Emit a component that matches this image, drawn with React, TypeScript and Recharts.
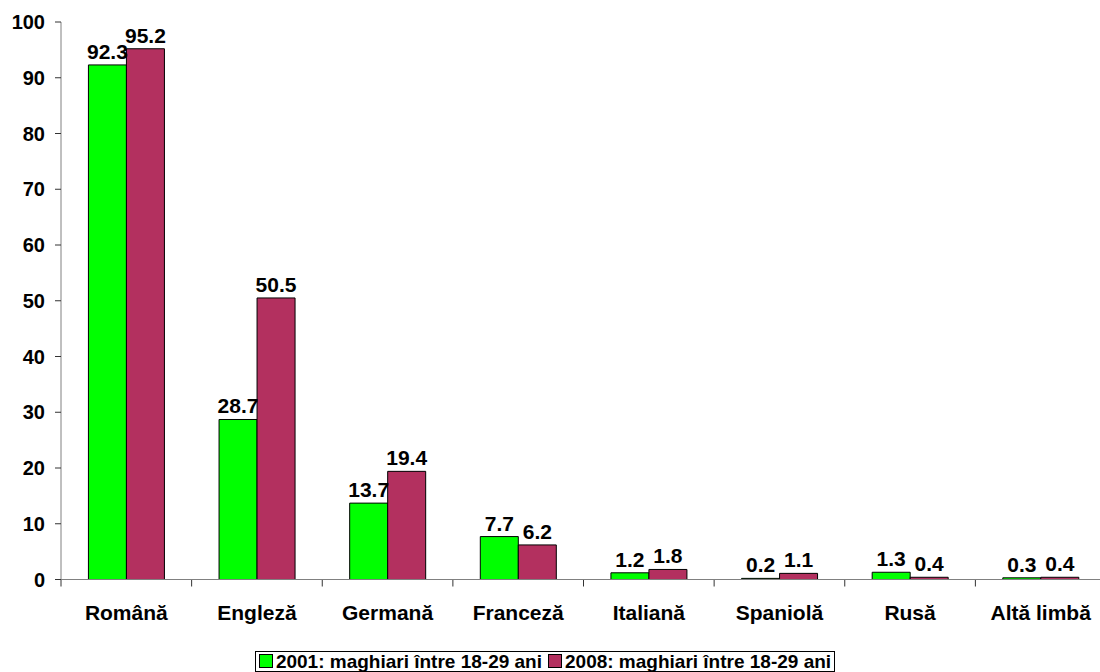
import React from 'react';
import { BarChart, Bar, XAxis, YAxis, Legend, LabelList, CartesianGrid } from 'recharts';

const categories = ['Română', 'Engleză', 'Germană', 'Franceză', 'Italiană', 'Spaniolă', 'Rusă', 'Altă limbă'];
const values2001 = [92.3, 28.7, 13.7, 7.7, 1.2, 0.2, 1.3, 0.3];
const values2008 = [95.2, 50.5, 19.4, 6.2, 1.8, 1.1, 0.4, 0.4];
const yTicks = [0, 10, 20, 30, 40, 50, 60, 70, 80, 90, 100];

const series = [
  { key: 'y2001', name: '2001: maghiari între 18-29 ani', color: '#00FF00' },
  { key: 'y2008', name: '2008: maghiari între 18-29 ani', color: '#B3305F' },
];

const data = categories.map((c, i) => ({ name: c, y2001: values2001[i], y2008: values2008[i] }));

const font = '"Liberation Sans", Arial, sans-serif';
const axisColor = '#808080';
const tickColor = '#333333';

// category boundaries along the x axis, taken from the plot area the chart hands over
const boundaryCoords = ({ offset }: any) =>
  Array.from({ length: categories.length + 1 }, (_, i) => offset.left + (offset.width * i) / categories.length);

// short tick mark hanging under the x axis at a category boundary
const BoundaryTick = (props: any) => (
  <line key={props.key} x1={props.x1} x2={props.x1} y1={props.y2} y2={props.y2 + 7} stroke={tickColor} strokeWidth={1} />
);

const LegendBox = () => (
  <div style={{ textAlign: 'center', paddingRight: 16 }}>
    <div
      style={{
        display: 'inline-flex',
        alignItems: 'center',
        border: '1px solid #000',
        padding: '0px 3px',
        fontFamily: font,
        fontWeight: 'bold',
        fontSize: 19,
        lineHeight: '19px',
        color: '#000',
        background: '#fff',
      }}
    >
      {series.map((s, i) => (
        <span key={s.key} style={{ display: 'inline-flex', alignItems: 'center', marginLeft: i ? 6 : 0 }}>
          <span style={{ width: 12, height: 12, background: s.color, border: '1px solid #000', marginRight: 3 }} />
          {s.name}
        </span>
      ))}
    </div>
  </div>
);

export default function App() {
  return (
    <div style={{ position: 'absolute', left: 0, top: 0, width: 1100, height: 672, background: '#fff' }}>
      <BarChart
        width={1100}
        height={672}
        data={data}
        margin={{ top: 22, right: -6, bottom: 0, left: 0 }}
        barGap={0}
        barCategoryGap="21%"
      >
        <CartesianGrid
          horizontal={false}
          vertical={BoundaryTick}
          verticalCoordinatesGenerator={boundaryCoords}
        />
        <XAxis
          dataKey="name"
          height={71}
          tickLine={false}
          tickSize={0}
          tickMargin={26}
          axisLine={{ stroke: axisColor }}
          interval={0}
          tick={{ fontFamily: font, fontWeight: 'bold', fontSize: 21, fill: '#000' }}
        />
        <YAxis
          domain={[0, 100]}
          ticks={yTicks}
          width={61}
          tickSize={6}
          tickMargin={10}
          axisLine={{ stroke: axisColor }}
          tickLine={{ stroke: tickColor }}
          tick={{ fontFamily: font, fontWeight: 'bold', fontSize: 20, fill: '#000' }}
        />
        <Legend verticalAlign="bottom" content={<LegendBox />} />
        {series.map((s) => (
          <Bar
            key={s.key}
            dataKey={s.key}
            name={s.name}
            fill={s.color}
            stroke="#000"
            strokeWidth={1}
            isAnimationActive={false}
          >
            <LabelList
              dataKey={s.key}
              position="top"
              offset={6}
              style={{ fontFamily: font, fontWeight: 'bold', fontSize: 21, fill: '#000' }}
            />
          </Bar>
        ))}
      </BarChart>
    </div>
  );
}
